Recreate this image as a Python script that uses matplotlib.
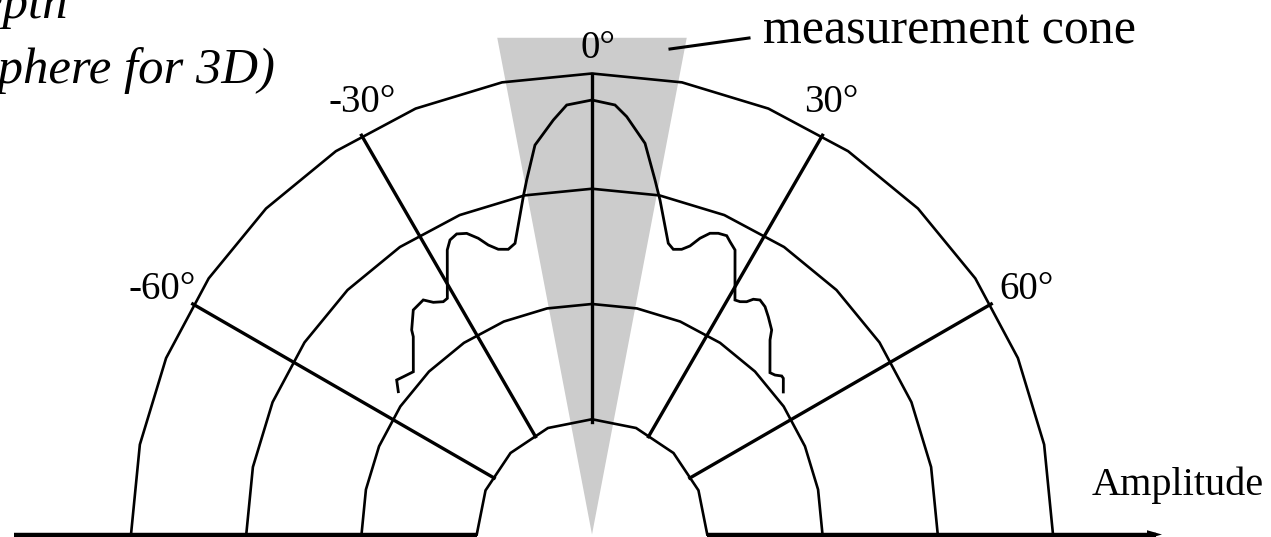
import numpy as np
import matplotlib
matplotlib.use("Agg")
import matplotlib.pyplot as plt

# ---------------- data ----------------
ring_radii = [1, 2, 3, 4]
ring_steps_deg = [22.5, 11.25, 11.25, 11.25]
spoke_angles = [-60, -30, 0, 30, 60]
spoke_labels = ["-60°", "-30°", "0°", "30°", "60°"]

# beam pattern (angle from vertical in degrees, amplitude in ring units)
pattern_theta = [-53.60, -51.66, -50.10, -47.67, -42.10, -41.40, -38.52, -35.73,
                 -34.35, -32.57, -31.49, -26.96, -25.74, -24.24, -22.59, -21.00,
                 -19.71, -18.19, -16.36, -14.81, -11.50, -10.44, -8.33, -5.33,
                 -3.37, 0.0, 3.07, 4.75, 7.72, 10.08, 11.49, 14.68, 15.91, 17.46,
                 18.76, 20.03, 21.39, 22.75, 24.27, 25.23, 26.69, 31.37, 32.45,
                 33.60, 34.44, 35.62, 37.22, 38.99, 41.30, 42.46, 47.72, 48.93,
                 50.12, 50.78, 53.31]
pattern_r = [2.088, 2.161, 2.134, 2.097, 2.313, 2.366, 2.490, 2.507,
             2.440, 2.397, 2.403, 2.770, 2.837, 2.860, 2.830, 2.753,
             2.668, 2.605, 2.579, 2.613, 2.991, 3.128, 3.415, 3.612,
             3.733, 3.770, 3.732, 3.638, 3.425, 3.124, 2.962, 2.612, 2.573, 2.594,
             2.644, 2.736, 2.807, 2.834, 2.844, 2.809, 2.763, 2.383, 2.394,
             2.425, 2.475, 2.503, 2.482, 2.431, 2.362, 2.288, 2.087, 2.106,
             2.145, 2.143, 2.070]

cone_half_angle_deg = 10.8
cone_height = 4.31

# ---------------- figure ----------------
W, H = 1271, 537
unit = 115.25
cx_px, cy_px = 592, 534.5
fig = plt.figure(figsize=(W / 100, H / 100), dpi=100)
ax = fig.add_axes([0, 0, 1, 1])
ax.set_xlim(-cx_px / unit, (W - cx_px) / unit)
ax.set_ylim(-(H - cy_px) / unit, cy_px / unit)
ax.axis("off")


def pol(theta_deg, r):
    t = np.radians(np.asarray(theta_deg, dtype=float))
    r = np.asarray(r, dtype=float)
    return r * np.sin(t), r * np.cos(t)


# cone
ch = cone_height * np.tan(np.radians(cone_half_angle_deg))
ax.fill([0, -ch, ch], [0, cone_height, cone_height], color="#cccccc", lw=0, zorder=1)

# rings (polygonal)
for r, st in zip(ring_radii, ring_steps_deg):
    th = np.arange(-90, 90 + st / 2, st)
    x, y = pol(th, np.full_like(th, r))
    ax.plot(x, y, color="black", lw=1.9, zorder=2, solid_joinstyle="miter")

# spokes
for a in spoke_angles:
    x, y = pol([a, a], [0.98, 4.0])
    ax.plot(x, y, color="black", lw=2.4, zorder=2)

# pattern
x, y = pol(pattern_theta, pattern_r)
ax.plot(x, y, color="black", lw=2.0, zorder=3, solid_joinstyle="miter")

# baseline + arrow
ax.plot([-(cx_px - 14) / unit, -1.0], [0, 0], color="black", lw=3.2, zorder=4,
        solid_capstyle="butt")
tip = (1162 - cx_px) / unit
ax.plot([1.0, tip - 0.05], [0, 0], color="black", lw=3.2, zorder=4, solid_capstyle="butt")
ax.fill([tip - 0.13, tip, tip - 0.13], [0.037, 0, -0.037], color="black", lw=0, zorder=4)

serif = ["Liberation Serif", "DejaVu Serif"]


def px(xp, yp):
    return (xp - cx_px) / unit, (cy_px - yp) / unit


# angle labels
label_pos = [(162.5, 299), (362, 112), (597.5, 58), (831, 112), (1026.5, 299)]
for lab, (xp, yp) in zip(spoke_labels, label_pos):
    xx, yy = px(xp, yp)
    ax.text(xx, yy, lab, family=serif, fontsize=28, ha="center", va="baseline", zorder=5)

# measurement cone label and leader
xx, yy = px(763, 43)
ax.text(xx, yy, "measurement cone", family=serif, fontsize=36, ha="left", va="baseline", zorder=5)
x1, y1 = px(670, 49)
x2, y2 = px(749, 38)
ax.plot([x1, x2], [y1, y2], color="black", lw=2.2, zorder=5)

# amplitude label
xx, yy = px(1092, 495)
ax.text(xx, yy, "Amplitude", family=serif, fontsize=29, ha="left", va="baseline", zorder=5)

# top-left italic text (clipped at left edge, as in the reference)
xx, yy = px(68, 18)
ax.text(xx, yy, "constant depth", family=serif, style="italic", fontsize=36.5,
        ha="right", va="baseline", zorder=5)
xx, yy = px(275, 83)
ax.text(xx, yy, "(sphere for 3D)", family=serif, style="italic", fontsize=36.5,
        ha="right", va="baseline", zorder=5)

fig.savefig("out.png", dpi=100)
